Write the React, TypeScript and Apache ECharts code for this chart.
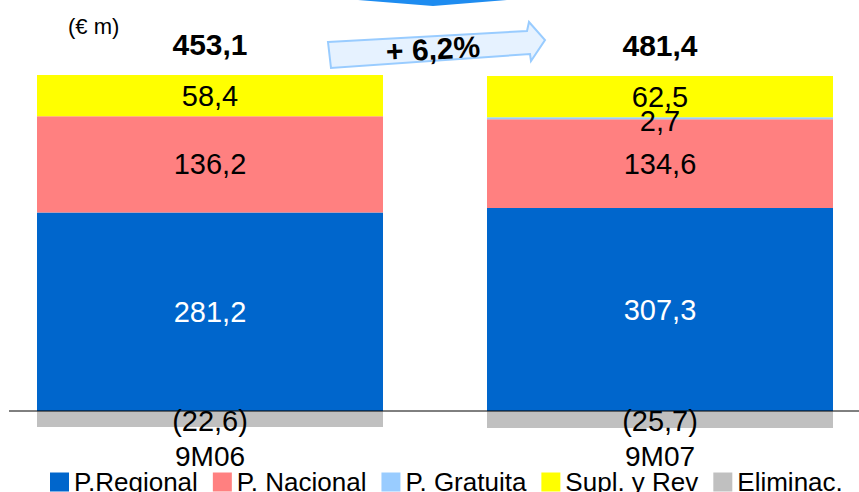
import React, { useEffect, useRef } from "react";
import * as echarts from "echarts";

const categories = ["9M06", "9M07"];
const seriesNames = ["P.Regional", "P. Nacional", "P. Gratuita", "Supl. y Rev", "Eliminac."];
const regional = [281.2, 307.3];
const nacional = [136.2, 134.6];
const gratuita = [0, 2.7];
const supl = [58.4, 62.5];
const elimin = [-22.6, -25.7];
const totals = [453.1, 481.4];
const growthLabel = "+ 6,2%";
const unitLabel = "(€ m)";

const colors = ["#0066CC", "#FF8080", "#99CCFF", "#FFFF00", "#C0C0C0"];
const labelColors = ["#FFFFFF", "#000000", "#000000", "#000000", "#000000"];
const labelOffsets = [[0, 0], [0, 0], [0, 3], [0, 0], [0, 2]];
const FONT = "Liberation Sans";

const fmt = (v: number) => {
  const s = Math.abs(v).toFixed(1).replace(".", ",");
  return v < 0 ? "(" + s + ")" : s;
};

export default function App() {
  const ref = useRef<HTMLDivElement>(null);
  useEffect(() => {
    if (!ref.current) return;
    const chart = echarts.init(ref.current, null, { renderer: "svg" });
    const raw = [regional, nacional, gratuita, supl, elimin];
    const absSum = categories.map((_, i) => raw.reduce((s, a) => s + Math.abs(a[i]), 0));
    const pct = raw.map((arr) => arr.map((v, i) => (v / absSum[i]) * 100));
    const posTop = categories.map((_, i) => pct.reduce((s, a) => s + (a[i] > 0 ? a[i] : 0), 0));

    const barSeries = seriesNames.map((name, si) => ({
      name,
      type: "bar",
      stack: "s",
      barWidth: 346,
      itemStyle: { color: colors[si] },
      data: pct[si],
      label: {
        show: true,
        position: "inside",
        offset: labelOffsets[si],
        color: labelColors[si],
        fontSize: 29,
        fontFamily: FONT,
        formatter: (p: any) => (raw[si][p.dataIndex] === 0 ? "" : fmt(raw[si][p.dataIndex])),
      },
    }));

    chart.setOption({
      animation: false,
      textStyle: { fontFamily: FONT },
      grid: {
        left: -15,
        right: -26,
        top: 59.1,
        bottom: 45.8,
        containLabel: false,
        outerBoundsMode: "none",
      },
      xAxis: {
        type: "category",
        data: categories,
        splitLine: { show: false },
        axisTick: { show: false },
        axisLine: { show: false },
        axisLabel: { show: false },
      },
      yAxis: {
        type: "value",
        min: -10,
        max: 100,
        show: false,
        splitLine: { show: false },
      },
      legend: {
        data: seriesNames,
        left: 50,
        top: 469,
        padding: 0,
        itemWidth: 19,
        itemHeight: 19,
        itemGap: 15,
        icon: "rect",
        textStyle: { fontSize: 26, fontFamily: FONT, color: "#000" },
      },
      series: [
        ...barSeries,
        {
          name: "total",
          type: "scatter",
          symbolSize: 0,
          itemStyle: { opacity: 1 },
          data: posTop,
          label: {
            show: true,
            position: "top",
            distance: 16,
            fontSize: 30,
            fontWeight: "bold",
            fontFamily: FONT,
            color: "#000000",
            opacity: 1,
            formatter: (p: any) => fmt(totals[p.dataIndex]),
          },
        },
        {
          name: "category",
          type: "scatter",
          symbolSize: 0,
          itemStyle: { opacity: 1 },
          data: categories.map(() => 0),
          label: {
            show: true,
            position: "bottom",
            distance: 31,
            fontSize: 28,
            fontFamily: FONT,
            color: "#000000",
            opacity: 1,
            formatter: (p: any) => categories[p.dataIndex],
          },
        },
      ],
      graphic: [
        {
          type: "polygon",
          shape: { points: [[358, 0], [507, 0], [433, 6]] },
          style: { fill: "#1E8CF0" },
        },
        {
          type: "polygon",
          shape: {
            points: [[328, 42], [527, 31], [529, 22], [545, 40], [531, 61], [530, 54], [331, 68]],
          },
          style: { fill: "#E6F2FF", stroke: "#99CCFF", lineWidth: 2 },
        },
        {
          type: "text",
          x: 433,
          y: 49,
          rotation: 0.055,
          style: {
            text: growthLabel,
            fontSize: 30,
            fontWeight: "bold",
            fontFamily: FONT,
            fill: "#000",
            align: "center",
            verticalAlign: "middle",
          },
        },
        {
          type: "text",
          x: 68,
          y: 26,
          style: {
            text: unitLabel,
            fontSize: 22,
            fontFamily: FONT,
            fill: "#000",
            align: "left",
            verticalAlign: "middle",
          },
        },
      ],
    });

    const y0 = chart.convertToPixel({ yAxisIndex: 0 }, 0) as number;
    chart.setOption({
      graphic: [
        {
          id: "zeroLine",
          type: "line",
          z: 10,
          shape: { x1: 9, y1: y0, x2: 859, y2: y0 },
          style: { stroke: "#000", lineWidth: 1 },
        },
      ],
    });
    return () => chart.dispose();
  }, []);
  return (
    <div
      ref={ref}
      style={{ position: "fixed", left: 0, top: 0, width: 859, height: 492, background: "#fff" }}
    />
  );
}
